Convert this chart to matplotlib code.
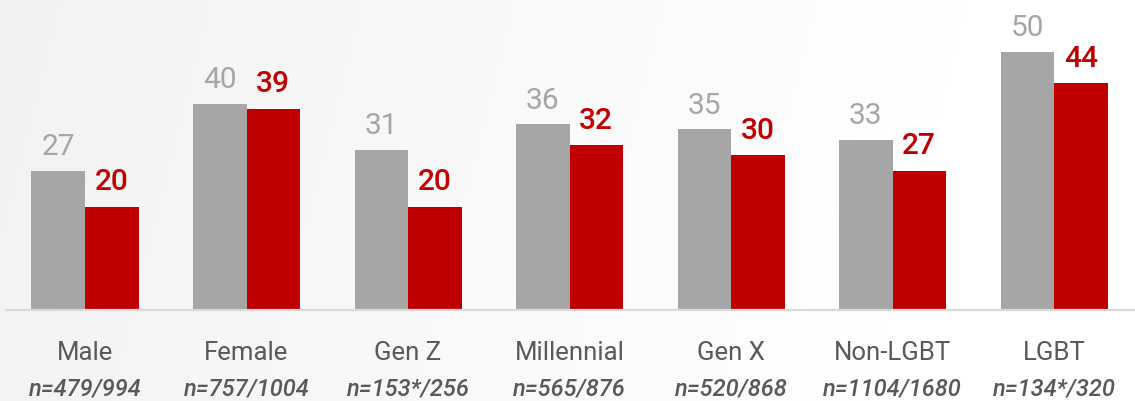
import numpy as np
import matplotlib
matplotlib.use("Agg")
import matplotlib.pyplot as plt
from matplotlib.transforms import blended_transform_factory

categories = ["Male", "Female", "Gen Z", "Millennial", "Gen X", "Non-LGBT", "LGBT"]
sample_sizes = ["n=479/994", "n=757/1004", "n=153*/256", "n=565/876",
                "n=520/868", "n=1104/1680", "n=134*/320"]
series_gray = [27, 40, 31, 36, 35, 33, 50]
series_red = [20, 39, 20, 32, 30, 27, 44]

GRAY = "#a6a6a6"
RED = "#c00000"
TEXT = "#595959"

W, H = 1135, 402
fig = plt.figure(figsize=(W / 100, H / 100), dpi=100)

# soft diagonal background gradient, light gray on the left to white on the right
bg = fig.add_axes([0, 0, 1, 1], zorder=-10)
yy, xx = np.mgrid[0:H, 0:W]
t = np.clip((xx + 0.25 * yy) / (W * 0.85), 0, 1)
shade = 0.950 + (1.0 - 0.950) * t
bg.imshow(np.dstack([shade, shade, shade]), aspect="auto", extent=(0, 1, 0, 1),
          interpolation="bilinear")
bg.set_axis_off()

base_px = 311
ax = fig.add_axes([0, (H - base_px) / H, 1, base_px / H])
ax.patch.set_alpha(0)
px_per_unit = 5.16
ax.set_ylim(0, base_px / px_per_unit)
step = 161.5
x0 = 85
ax.set_xlim(-x0 / step, (W - x0) / step)
ax.set_axis_off()

x = np.arange(len(categories))
bw = 53.5 / step
ax.bar(x - bw / 2, series_gray, width=bw, color=GRAY, linewidth=0)
ax.bar(x + bw / 2, series_red, width=bw, color=RED, linewidth=0)

# baseline
ax.plot([5 / step - x0 / step, (W - x0) / step], [0, 0], color="#d9d9d9",
        lw=1.6, clip_on=False, solid_capstyle="butt")

for xi, g, r in zip(x, series_gray, series_red):
    ax.annotate(f"{g}", (xi - bw / 2, g), xytext=(0, 12), textcoords="offset points",
                ha="center", va="baseline", fontsize=21.5, color=GRAY,
                family="Roboto")
    ax.annotate(f"{r}", (xi + bw / 2, r), xytext=(0, 12.5), textcoords="offset points",
                ha="center", va="baseline", fontsize=21.5, color=RED,
                family="Roboto", fontweight="medium")

tr = blended_transform_factory(ax.transData, fig.transFigure)
for xi, cat, n in zip(x, categories, sample_sizes):
    ax.text(xi, 1 - 360 / H, cat, transform=tr, ha="center", va="baseline",
            fontsize=18.5, color=TEXT, family="Roboto")
    ax.text(xi, 1 - 396 / H, n, transform=tr, ha="center", va="baseline",
            fontsize=17, color=TEXT, family="Roboto", style="italic",
            fontweight="medium")

fig.savefig("out.png", dpi=100)
